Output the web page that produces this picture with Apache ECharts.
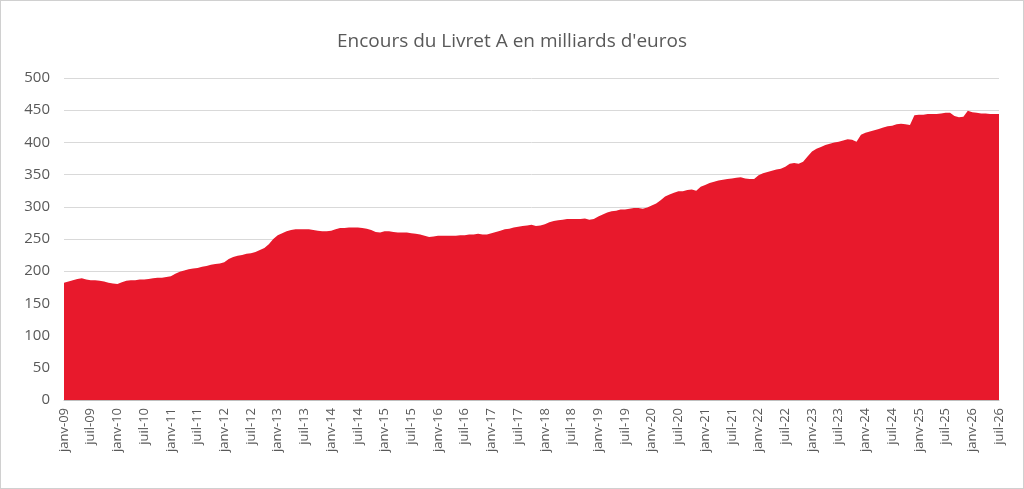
<!DOCTYPE html>
<html>
<head>
<meta charset="utf-8">
<script src="https://cdn.jsdelivr.net/npm/echarts@6/dist/echarts.min.js"></script>
<style>
html,body{margin:0;padding:0;background:#fff;}
#chart{width:1022px;height:487px;border:1px solid #d0d0d0;}
</style>
</head>
<body>
<div id="chart"></div>
<script>
var monthNames=['janv','févr','mars','avr','mai','juin','juil','août','sept','oct','nov','déc'];
var firstYear=2009;

// encours mensuel par année (milliards d'euros)
var y2009=[182,184,186,188,189,187,186,186,185,184,182,181];
var y2010=[180,183,185,186,186,187,187,188,189,190,190,191];
var y2011=[192,196,199,201,203,204,205,207,208,210,211,212];
var y2012=[214,219,222,224,225,227,228,230,233,236,242,250];
var y2013=[256,259,262,264,265,265,265,265,264,263,262,262];
var y2014=[263,265,267,267,268,268,268,267,266,264,261,260];
var y2015=[262,262,261,260,260,260,259,258,257,255,253,254];
var y2016=[255,255,255,255,255,256,256,257,257,258,257,257];
var y2017=[259,261,263,265,266,268,269,270,271,272,270,271];
var y2018=[273,276,278,279,280,281,281,281,281,282,280,281];
var y2019=[285,288,291,293,294,296,296,297,298,298,297,299];
var y2020=[302,305,310,316,319,322,324,324,326,327,325,331];
var y2021=[334,337,339,341,342,343,344,345,346,344,343,343];
var y2022=[349,352,354,356,358,359,362,367,368,367,370,378];
var y2023=[386,390,393,396,398,400,401,403,405,404,401,412];
var y2024=[415,417,419,421,423,425,426,428,429,428,427,442];
var y2025=[443,443,444,444,444,445,446,446,441,439,440,449];
var y2026=[447,446,445,445,444,444,444];

var years=[y2009,y2010,y2011,y2012,y2013,y2014,y2015,y2016,y2017,y2018,y2019,y2020,y2021,y2022,y2023,y2024,y2025,y2026];
var categories=[];
var values=[];
years.forEach(function(arr,i){
  var yy=String(firstYear+i).slice(2);
  arr.forEach(function(v,m){
    categories.push(monthNames[m]+'-'+yy);
    values.push(v);
  });
});

var chart=echarts.init(document.getElementById('chart'));
var option={
  animation:false,
  title:{
    text:"Encours du Livret A en milliards d'euros",
    left:'center',
    top:26,
    textStyle:{fontFamily:'Open Sans',fontSize:19,fontWeight:'normal',color:'#595959'}
  },
  grid:{left:63,right:24,top:77,bottom:88},
  xAxis:{
    type:'category',
    boundaryGap:false,
    data:categories,
    axisLine:{lineStyle:{color:'#bfbfbf'}},
    axisTick:{show:false},
    axisLabel:{
      interval:5,
      rotate:90,
      color:'#595959',
      fontFamily:'Open Sans',
      fontSize:13
    }
  },
  yAxis:{
    type:'value',
    min:0,
    max:500,
    interval:50,
    axisLabel:{color:'#595959',fontFamily:'Open Sans',fontSize:15,margin:14},
    splitLine:{lineStyle:{color:'#d9d9d9'}}
  },
  series:[{
    type:'line',
    data:values,
    symbol:'none',
    lineStyle:{width:0},
    areaStyle:{color:'#e8192c',opacity:1}
  }]
};
chart.setOption(option);
</script>
</body>
</html>
